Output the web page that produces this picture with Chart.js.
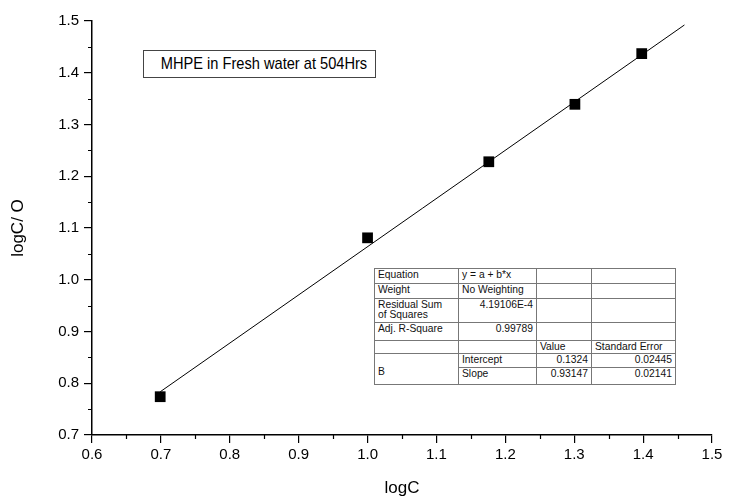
<!DOCTYPE html>
<html>
<head>
<meta charset="utf-8">
<script src="https://cdn.jsdelivr.net/npm/chart.js@4/dist/chart.umd.min.js"></script>
<style>
  html, body { margin: 0; padding: 0; background: #fff; }
  #wrap { position: relative; width: 733px; height: 499px; }
  #chart { position: absolute; left: 0; top: 0; }
  .label-box {
    position: absolute; left: 143px; top: 50px; width: 233px; height: 28px;
    border: 1px solid #444; box-sizing: border-box;
    font-family: "Liberation Sans", Arial, sans-serif; font-size: 17px;
    line-height: 26px; text-align: center; color: #000; background: #fff;
    white-space: nowrap;
  }
  .label-box span { display: inline-block; transform: scaleX(0.86); transform-origin: center; }
  table.fit {
    position: absolute; left: 374px; top: 268px; width: 301px;
    border-collapse: collapse; border: 1.5px solid #333;
    font-family: "Liberation Sans", Arial, sans-serif; font-size: 10.3px; color: #111;
    background: #fff; table-layout: fixed;
  }
  table.fit td {
    border: 1px solid #777; padding: 1px 3px 0 3px; vertical-align: top;
    line-height: 10px; white-space: nowrap; overflow: hidden;
  }
  table.fit td.r { text-align: right; }
  table.fit td.mid { vertical-align: middle; padding-top: 6px; }
</style>
</head>
<body>
<div id="wrap">
  <canvas id="chart" width="733" height="499"></canvas>
  <div class="label-box"><span>MHPE in Fresh water at 504Hrs</span></div>
  <table class="fit">
    <colgroup><col style="width:84px"><col style="width:78px"><col style="width:55px"><col style="width:84px"></colgroup>
    <tr style="height:15px"><td>Equation</td><td>y = a + b*x</td><td></td><td></td></tr>
    <tr style="height:15px"><td>Weight</td><td>No Weighting</td><td></td><td></td></tr>
    <tr style="height:24px"><td>Residual Sum<br>of Squares</td><td class="r" id="rss"></td><td></td><td></td></tr>
    <tr style="height:18px"><td>Adj. R-Square</td><td class="r" id="r2"></td><td></td><td></td></tr>
    <tr style="height:13px"><td></td><td></td><td>Value</td><td>Standard Error</td></tr>
    <tr style="height:14px"><td rowspan="2" class="mid">B</td><td>Intercept</td><td class="r" id="aVal"></td><td class="r" id="aErr"></td></tr>
    <tr style="height:17px"><td>Slope</td><td class="r" id="bVal"></td><td class="r" id="bErr"></td></tr>
  </table>
</div>
<script>
// Measured points: logC against logC/θ
const logC = [0.699, 1.0, 1.176, 1.301, 1.398];
const logCTheta = [0.774, 1.081, 1.228, 1.339, 1.437];

// Linear fit y = a + b*x
const intercept = 0.1324;
const slope = 0.93147;
const interceptErr = 0.02445;
const slopeErr = 0.02141;
const residualSS = '4.19106E-4';
const adjR2 = '0.99789';
const fitRangeX = [0.699, 1.46];

// Axis ranges and tick steps
const xRange = [0.6, 1.5];
const yRange = [0.7, 1.5];
const majorStep = 0.1;

document.getElementById('rss').textContent = residualSS;
document.getElementById('r2').textContent = adjR2;
document.getElementById('aVal').textContent = String(intercept);
document.getElementById('aErr').textContent = String(interceptErr);
document.getElementById('bVal').textContent = String(slope);
document.getElementById('bErr').textContent = String(slopeErr);

const scatterData = logC.map((x, i) => ({ x, y: logCTheta[i] }));
const fitData = fitRangeX.map(x => ({ x, y: intercept + slope * x }));

// Short minor ticks halfway between the labelled ones
const minorTicks = {
  id: 'minorTicks',
  afterDraw(chart) {
    const ctx = chart.ctx;
    const xs = chart.scales.x, ys = chart.scales.y;
    ctx.save();
    ctx.strokeStyle = '#000';
    ctx.lineWidth = 1.2;
    ctx.beginPath();
    for (let v = xRange[0] + majorStep / 2; v < xRange[1]; v += majorStep) {
      const px = Math.round(xs.getPixelForValue(v)) + 0.5;
      ctx.moveTo(px, ys.bottom);
      ctx.lineTo(px, ys.bottom + 4);
    }
    for (let v = yRange[0] + majorStep / 2; v < yRange[1]; v += majorStep) {
      const py = Math.round(ys.getPixelForValue(v)) + 0.5;
      ctx.moveTo(xs.left, py);
      ctx.lineTo(xs.left - 4, py);
    }
    ctx.stroke();
    ctx.restore();
  }
};

const tickFont = { family: '"Liberation Sans", Arial, sans-serif', size: 15 };
const titleFont = { family: '"Liberation Sans", Arial, sans-serif', size: 17 };

new Chart(document.getElementById('chart'), {
  type: 'scatter',
  data: {
    datasets: [
      {
        label: 'fit',
        type: 'line',
        data: fitData,
        borderColor: '#000',
        borderWidth: 1,
        pointRadius: 0,
        fill: false,
        order: 2
      },
      {
        label: 'data',
        data: scatterData,
        pointStyle: 'rect',
        pointRadius: 7.6,
        backgroundColor: '#000',
        borderColor: '#000',
        borderWidth: 0,
        order: 1
      }
    ]
  },
  options: {
    responsive: false,
    animation: false,
    events: [],
    layout: { padding: { left: 0, right: 21, top: 21, bottom: 0 } },
    plugins: { legend: { display: false }, tooltip: { enabled: false } },
    scales: {
      x: {
        type: 'linear',
        min: xRange[0], max: xRange[1],
        afterFit(s) { s.height = 64; },
        border: { display: true, color: '#000', width: 1.5 },
        grid: { display: true, drawOnChartArea: false, drawTicks: true, tickLength: 8, color: '#000', lineWidth: 1.2 },
        ticks: {
          stepSize: majorStep, color: '#000', font: tickFont, padding: 3,
          callback: v => Number(v).toFixed(1)
        },
        title: { display: true, text: 'logC', color: '#000', font: titleFont, padding: { top: 6, bottom: 0 } }
      },
      y: {
        type: 'linear',
        min: yRange[0], max: yRange[1],
        afterFit(s) { s.width = 92; },
        border: { display: true, color: '#000', width: 1.5 },
        grid: { display: true, drawOnChartArea: false, drawTicks: true, tickLength: 8, color: '#000', lineWidth: 1.2 },
        ticks: {
          stepSize: majorStep, color: '#000', font: tickFont, padding: 5,
          callback: v => Number(v).toFixed(1)
        },
        title: { display: true, text: 'logC/ O', color: '#000', font: titleFont, padding: { top: 8, bottom: 0 } }
      }
    }
  },
  plugins: [minorTicks]
});
</script>
</body>
</html>
